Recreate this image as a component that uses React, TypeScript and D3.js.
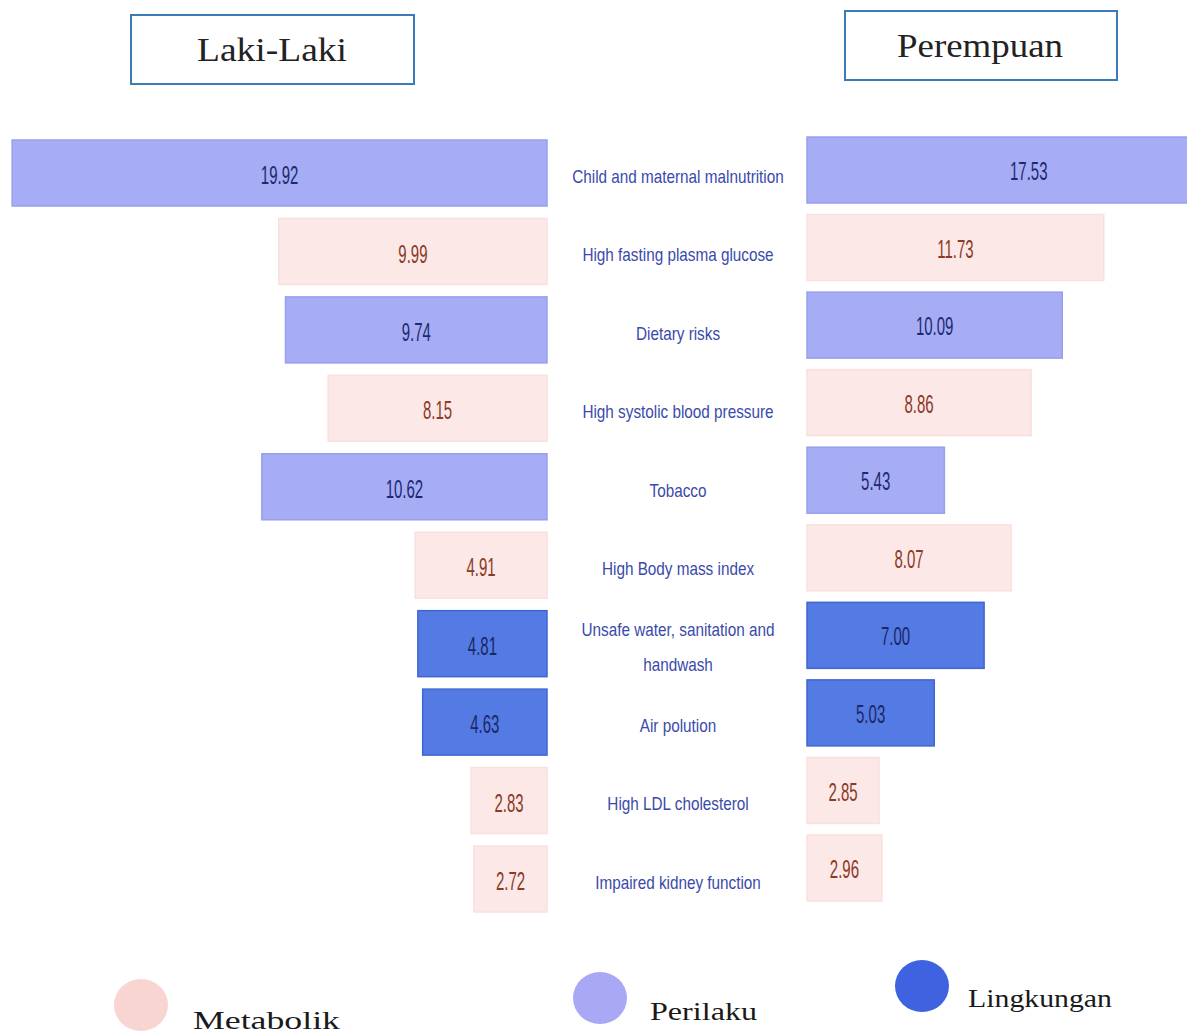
import React from "react";
import * as d3 from "d3";

// Risk factors, top to bottom
const categories = [
  "Child and maternal malnutrition",
  "High fasting plasma glucose",
  "Dietary risks",
  "High systolic blood pressure",
  "Tobacco",
  "High Body mass index",
  "Unsafe water, sanitation and handwash",
  "Air polution",
  "High LDL cholesterol",
  "Impaired kidney function",
];

// Wrapped category label lines
const categoryLines = [
  ["Child and maternal malnutrition"],
  ["High fasting plasma glucose"],
  ["Dietary risks"],
  ["High systolic blood pressure"],
  ["Tobacco"],
  ["High Body mass index"],
  ["Unsafe water, sanitation and", "handwash"],
  ["Air polution"],
  ["High LDL cholesterol"],
  ["Impaired kidney function"],
];

const riskGroup = [
  "Perilaku",
  "Metabolik",
  "Perilaku",
  "Metabolik",
  "Perilaku",
  "Metabolik",
  "Lingkungan",
  "Lingkungan",
  "Metabolik",
  "Metabolik",
];

const lakiValues = [19.92, 9.99, 9.74, 8.15, 10.62, 4.91, 4.81, 4.63, 2.83, 2.72];
const perempuanValues = [17.53, 11.73, 10.09, 8.86, 5.43, 8.07, 7.0, 5.03, 2.85, 2.96];

const groups = ["Metabolik", "Perilaku", "Lingkungan"];
const groupFill = ["#fce8e6", "#a6adf5", "#547ae3"];
const groupStroke = ["#f9e0de", "#96a0ee", "#4066d2"];
const groupLabel = ["#8b3a26", "#1d2a6f", "#1b2866"];
const legendFill = ["#f9d5d2", "#a9a8f4", "#3f63e0"];

const W = 1187;
const H = 1035;
const BAR_H = 66;

const sans = "'Liberation Sans', Arial, sans-serif";
const serif = "'Liberation Serif', 'Times New Roman', serif";

// Legend placement
const legendCx = [141, 600, 922];
const legendCy = [1005, 998, 986];
const legendTextX = [193, 650, 968];
const legendTextY = [1029, 1020, 1007];
const legendTextW = [147, 107, 144];

export default function App() {
  const color = d3.scaleOrdinal<string, string>().domain(groups).range(groupFill);
  const stroke = d3.scaleOrdinal<string, string>().domain(groups).range(groupStroke);
  const labelColor = d3.scaleOrdinal<string, string>().domain(groups).range(groupLabel);

  // Left panel grows leftwards from its baseline, right panel grows rightwards
  const xLeft = d3.scaleLinear().domain([0, 20]).range([547, 10]);
  const xRight = d3.scaleLinear().domain([0, 20]).range([807, 1313]);
  const yLeft = d3.scalePoint<string>().domain(categories).range([173, 879]);
  const yRight = d3.scalePoint<string>().domain(categories).range([170, 868]);

  const valueText = (x: number, y: number, v: number, g: string) => (
    <text
      transform={`translate(${x},${y}) scale(0.6,1)`}
      fontFamily={sans}
      fontSize={25}
      textAnchor="middle"
      dominantBaseline="central"
      fill={labelColor(g)}
    >
      {v.toFixed(2)}
    </text>
  );

  return (
    <svg
      width={W}
      height={H}
      viewBox={`0 0 ${W} ${H}`}
      style={{ position: "absolute", left: 0, top: 0, background: "#ffffff" }}
    >
      <rect x={0} y={0} width={W} height={H} fill="#ffffff" />

      {/* Panel headers */}
      <rect x={131} y={15} width={283} height={69} fill="none" stroke="#3b7cb6" strokeWidth={2} />
      <text x={197} y={61} fontFamily={serif} fontSize={34} textLength={150} lengthAdjust="spacingAndGlyphs" fill="#222">
        Laki-Laki
      </text>
      <rect x={845} y={11} width={272} height={69} fill="none" stroke="#3b7cb6" strokeWidth={2} />
      <text x={897} y={57} fontFamily={serif} fontSize={34} textLength={166} lengthAdjust="spacingAndGlyphs" fill="#222">
        Perempuan
      </text>

      {/* Laki-Laki bars */}
      {categories.map((c, i) => {
        const v = lakiValues[i];
        const g = riskGroup[i];
        const cy = yLeft(c)!;
        const x0 = xLeft(v);
        const x1 = xLeft(0);
        return (
          <g key={"l" + c}>
            <rect x={x0} y={cy - BAR_H / 2} width={x1 - x0} height={BAR_H} fill={color(g)} stroke={stroke(g)} strokeWidth={1.5} />
            {valueText((x0 + x1) / 2, cy + 2, v, g)}
          </g>
        );
      })}

      {/* Perempuan bars */}
      {categories.map((c, i) => {
        const v = perempuanValues[i];
        const g = riskGroup[i];
        const cy = yRight(c)!;
        const x0 = xRight(0);
        const x1 = xRight(v);
        return (
          <g key={"r" + c}>
            <rect x={x0} y={cy - BAR_H / 2} width={x1 - x0} height={BAR_H} fill={color(g)} stroke={stroke(g)} strokeWidth={1.5} />
            {valueText((x0 + x1) / 2, cy + 1, v, g)}
          </g>
        );
      })}

      {/* Category labels */}
      {categories.map((c, i) => {
        const lines = categoryLines[i];
        const cy = yLeft(c)! + 4;
        const lh = 35;
        return (
          <g key={"c" + c}>
            {lines.map((ln, j) => (
              <text
                key={j}
                transform={`translate(678,${cy + (j - (lines.length - 1) / 2) * lh}) scale(0.85,1)`}
                fontFamily={sans}
                fontSize={18}
                textAnchor="middle"
                dominantBaseline="central"
                fill="#3a4aab"
              >
                {ln}
              </text>
            ))}
          </g>
        );
      })}

      {/* Legend */}
      {groups.map((g, i) => (
        <g key={"lg" + g}>
          <ellipse cx={legendCx[i]} cy={legendCy[i]} rx={27} ry={26} fill={legendFill[i]} />
          <text
            x={legendTextX[i]}
            y={legendTextY[i]}
            fontFamily={serif}
            fontSize={26}
            textLength={legendTextW[i]}
            lengthAdjust="spacingAndGlyphs"
            fill="#1a1a1a"
          >
            {g}
          </text>
        </g>
      ))}
    </svg>
  );
}
